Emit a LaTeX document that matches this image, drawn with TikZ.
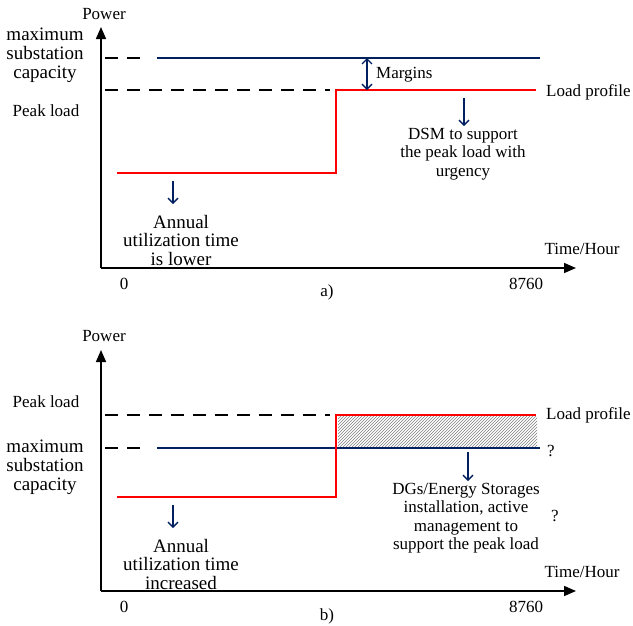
\documentclass[tikz,border=0pt]{standalone}
\usepackage{fontspec}
\setmainfont{Liberation Serif}
\usetikzlibrary{arrows.meta,patterns}
\definecolor{navy}{RGB}{0,32,96}
\definecolor{lred}{RGB}{255,0,0}
\begin{document}
\begin{tikzpicture}[x=1pt,y=-1pt,
 axis/.style={line width=1.6pt,-{Triangle[length=12pt,width=10pt]}},
 dashline/.style={line width=1.5pt,dash pattern=on 12.5pt off 9.5pt},
 capline/.style={line width=1.4pt,navy},
 loadline/.style={line width=1.4pt,lred},
 pointer/.style={line width=1.3pt,navy,-{Straight Barb[length=5pt,width=10pt]}},
 twoway/.style={line width=1.3pt,navy,{Straight Barb[length=5pt,width=10pt]}-{Straight Barb[length=5pt,width=10pt]}},
 lbl/.style={font=\fontsize{17}{18.5}\selectfont,inner sep=0pt},
 biglbl/.style={font=\fontsize{19}{19}\selectfont,inner sep=0pt,align=center},
 note/.style={font=\fontsize{17}{18.5}\selectfont,inner sep=0pt,align=center},
 bignote/.style={font=\fontsize{19}{18.5}\selectfont,inner sep=0pt,align=center},
 hatch/.style={pattern=north east lines,pattern color=gray}
]
\useasboundingbox (0,0) rectangle (633,625);

% ---------------- panel a ----------------
\coordinate (Oa) at (101,268);
\coordinate (YAa) at (101,27);
\coordinate (XAa) at (576,268);
\draw[axis] (Oa) -- (YAa);
\draw[axis] (Oa) -- (XAa);
\node[lbl] (powa) at (104,14) {Power};
\node[lbl] (tha) at (582,249) {Time/Hour};
\node[lbl] (za) at (124,284) {0};
\node[lbl] (ea) at (526,284) {8760};
\node[lbl] (capa) at (327,292) {a)};
\node[biglbl] (maxa) at (45,55) {maximum\\substation\\capacity};
\node[lbl] (pka) at (46,111) {Peak load};

\coordinate (da1) at (105,58);
\coordinate (da2) at (141,58);
\coordinate (ba1) at (157,58);
\coordinate (ba2) at (540,58);
\draw[dashline] (da1) -- (da2);
\draw[capline] (ba1) -- (ba2);
\coordinate (da3) at (105,90);
\coordinate (da4) at (330,90);
\draw[dashline] (da3) -- (da4);

\coordinate (ra1) at (117,173);
\coordinate (ra2) at (336,173);
\coordinate (ra3) at (336,90);
\coordinate (ra4) at (536,90);
\draw[loadline] (ra1) -- (ra2) -- (ra3) -- (ra4);
\node[lbl,anchor=west] (lpa) at (546,92) {Load profile};

\coordinate (ma1) at (367,58);
\coordinate (ma2) at (367,90);
\draw[twoway] (ma1) -- (ma2);
\node[lbl,anchor=west] (mga) at (376,75) {Margins};

\coordinate (pa1) at (464,98);
\coordinate (pa2) at (464,126);
\draw[pointer] (pa1) -- (pa2);
\node[note] (dsm) at (463,154) {DSM to support\\the peak load with\\urgency};

\coordinate (pa3) at (173,181);
\coordinate (pa4) at (173,204);
\draw[pointer] (pa3) -- (pa4);
\node[bignote] (anna) at (181,240) {Annual\\utilization time\\is lower};

% ---------------- panel b ----------------
\coordinate (Ob) at (101,591);
\coordinate (YAb) at (101,350);
\coordinate (XAb) at (576,591);
\node[lbl] (powb) at (104,336) {Power};
\node[lbl] (thb) at (582,572) {Time/Hour};
\node[lbl] (zb) at (124,607) {0};
\node[lbl] (eb) at (526,607) {8760};
\node[lbl] (capb) at (327,616) {b)};
\node[lbl] (pkb) at (46,402) {Peak load};
\node[biglbl] (maxb) at (45,467) {maximum\\substation\\capacity};

\coordinate (h1) at (338,416);
\coordinate (h2) at (537,447);
\fill[hatch] (h1) rectangle (h2);

\draw[axis] (Ob) -- (YAb);
\draw[axis] (Ob) -- (XAb);

\coordinate (db3) at (105,415);
\coordinate (db4) at (330,415);
\draw[dashline] (db3) -- (db4);
\coordinate (db1) at (105,448);
\coordinate (db2) at (141,448);
\coordinate (bb1) at (157,448);
\coordinate (bb2) at (540,448);
\draw[dashline] (db1) -- (db2);
\draw[capline] (bb1) -- (bb2);

\coordinate (rb1) at (117,497);
\coordinate (rb2) at (336,497);
\coordinate (rb3) at (336,415);
\coordinate (rb4) at (536,415);
\draw[loadline] (rb1) -- (rb2) -- (rb3) -- (rb4);
\node[lbl,anchor=west] (lpb) at (546,415) {Load profile};
\node[lbl] (q1) at (551,451) {?};
\node[lbl] (q2) at (555,516) {?};

\coordinate (pb1) at (468,452);
\coordinate (pb2) at (468,481);
\draw[pointer] (pb1) -- (pb2);
\node[note] (dgs) at (466,518) {DGs/Energy Storages\\installation, active\\management to\\support the peak load};

\coordinate (pb3) at (173,505);
\coordinate (pb4) at (173,528);
\draw[pointer] (pb3) -- (pb4);
\node[bignote] (annb) at (181,564) {Annual\\utilization time\\increased};
\end{tikzpicture}
\end{document}
